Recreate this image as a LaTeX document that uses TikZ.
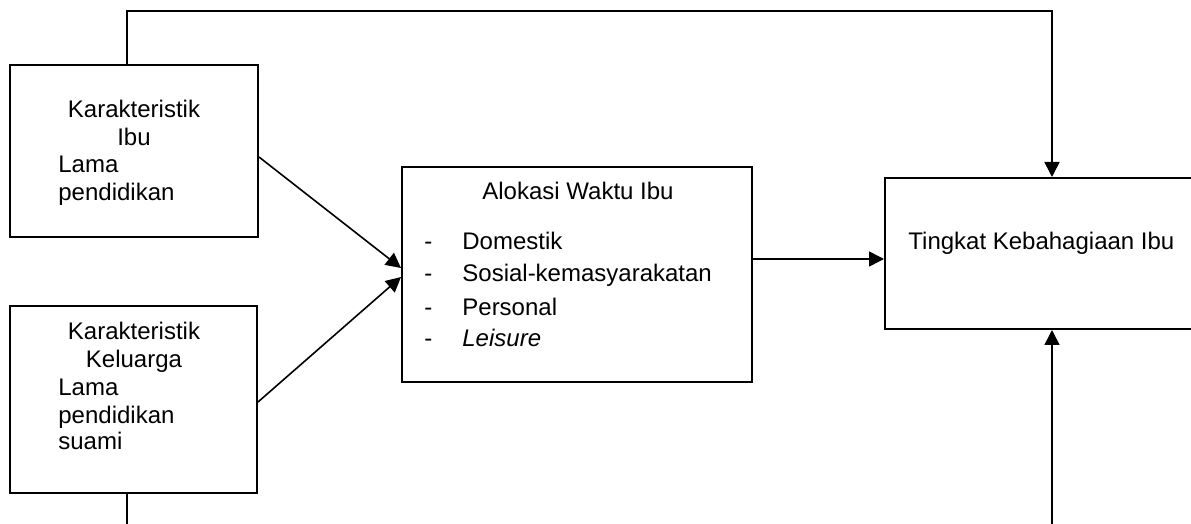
\documentclass[tikz,border=0pt]{standalone}
\usepackage{fontspec}
\setmainfont{Liberation Sans}
\usetikzlibrary{arrows.meta}
\tikzset{>={Triangle[length=7.5pt, width=7.5pt]}}
\tikzset{kotak/.style={draw, line width=1pt, inner sep=0pt},
         teks/.style={inner sep=0pt, font=\fontsize{12pt}{14pt}\selectfont}}

\begin{document}
\begin{tikzpicture}[x=0.5pt, y=-0.5pt]
                \clip (0,0) rectangle (1191,524);

                \node[kotak, minimum width=124pt, minimum height=86pt] (ibu) at (134,151) {};
                \node[kotak, minimum width=123.5pt, minimum height=93.5pt] (keluarga) at (133.5,399.5) {};
                \node[kotak, minimum width=175pt, minimum height=107.5pt] (waktu) at (577,274.5) {};
                \node[kotak, minimum width=167pt, minimum height=75.5pt] (bahagia) at (1052,253.5) {};

                % karakteristik ibu
                \node[teks, anchor=base] (ibu1) at (134,118) {Karakteristik};
                \node[teks, anchor=base] (ibu2) at (134,146) {Ibu};
                \node[teks, anchor=base west] (ibu3) at (58,173) {Lama};
                \node[teks, anchor=base west] (ibu4) at (58,201) {pendidikan};

                % karakteristik keluarga
                \node[teks, anchor=base] (kel1) at (134,340) {Karakteristik};
                \node[teks, anchor=base] (kel2) at (134,368) {Keluarga};
                \node[teks, anchor=base west] (kel3) at (58,395) {Lama};
                \node[teks, anchor=base west] (kel4) at (58,423) {pendidikan};
                \node[teks, anchor=base west] (kel5) at (58,450) {suami};

                % alokasi waktu
                \node[teks, anchor=base] (wkt0) at (578,200) {Alokasi Waktu Ibu};
                \node[teks, anchor=base west] (wkt1) at (462,250) {Domestik};
                \node[teks, anchor=base west] (wkt2) at (462,282) {Sosial-kemasyarakatan};
                \node[teks, anchor=base west] (wkt3) at (462,315) {Personal};
                \node[teks, anchor=base west] (wkt4) at (462,347) {\textit{Leisure}};
                \node[teks, anchor=base west] (d1) at (424,250) {-};
                \node[teks, anchor=base west] (d2) at (424,282) {-};
                \node[teks, anchor=base west] (d3) at (424,315) {-};
                \node[teks, anchor=base west] (d4) at (424,347) {-};

                \node[teks, anchor=base west] (bhg) at (908,250) {Tingkat Kebahagiaan Ibu};

                \draw[line width=0.8pt, ->] ([yshift=-3pt]ibu.east) -- ([yshift=3.25pt]waktu.west);
                \draw[line width=0.8pt, ->] ([yshift=-1.25pt]keluarga.east) -- ([yshift=-1.25pt]waktu.west);
                \draw[line width=0.8pt, ->] ([yshift=7.75pt]waktu.east) -- ([yshift=-2.75pt]bahagia.west);

                \draw[line width=0.8pt, ->] ([xshift=-3.5pt]ibu.north) -- ++(0,-53) -| (bahagia.north);
                \draw[line width=0.8pt, ->] ([xshift=-3.25pt]keluarga.south) -- ++(0,50) -| (bahagia.south);
            \end{tikzpicture}
\end{document}
